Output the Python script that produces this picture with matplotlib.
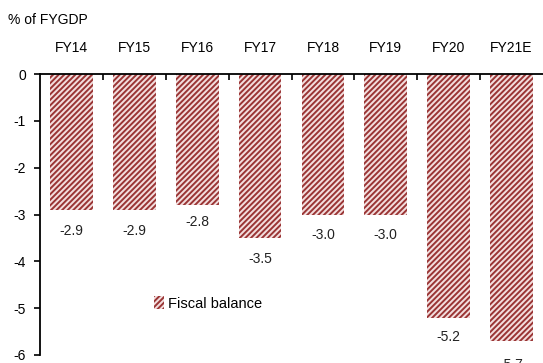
import matplotlib
matplotlib.use("Agg")
import matplotlib.pyplot as plt
import numpy as np

plt.rcParams['font.family'] = ['Liberation Sans Narrow', 'Liberation Sans', 'DejaVu Sans']
plt.rcParams['hatch.linewidth'] = 1.4

# data
years = ["FY14", "FY15", "FY16", "FY17", "FY18", "FY19", "FY20", "FY21E"]
fiscal_balance = [-2.9, -2.9, -2.8, -3.5, -3.0, -3.0, -5.2, -5.7]
label_offsets = [-0.46, -0.46, -0.37, -0.46, -0.43, -0.43, -0.42, -0.52]

fig = plt.figure(figsize=(5.43, 3.63), dpi=100)
ax = fig.add_axes([40 / 543, 8 / 363, 503 / 543, 281 / 363])

x = np.arange(len(years))
bars = ax.bar(x, fiscal_balance, width=0.68, color="#f3dede", edgecolor="#9a3535",
              hatch="//////", linewidth=0, label="Fiscal balance")

for xi, v, off in zip(x, fiscal_balance, label_offsets):
    ax.text(xi, v + off, f"{v:.1f}", ha="center", va="center", fontsize=10,
            color="#222222", clip_on=False)

ax.set_xlim(-0.5, len(years) - 0.5)
ax.set_ylim(-6, 0)
ax.set_yticks(range(-6, 1))
ax.set_yticklabels([str(t) for t in range(-6, 1)], fontsize=10)

# category labels above the zero line
ax.xaxis.tick_top()
ax.set_xticks(x)
ax.set_xticklabels(years, fontsize=10)
ax.tick_params(axis="x", length=0, pad=14)
# small boundary ticks on the zero line
ax.set_xticks(np.arange(0.5, len(years) - 0.5, 1), minor=True)
ax.tick_params(axis="x", which="minor", direction="in", length=4, width=1.2, top=True)
ax.tick_params(axis="y", direction="out", length=4, width=1.2, pad=6)

for s in ["right", "bottom"]:
    ax.spines[s].set_visible(False)
ax.spines["left"].set_linewidth(1.3)
ax.spines["top"].set_linewidth(1.3)

ax.legend(loc="upper left", bbox_to_anchor=(0.2, 0.255), frameon=False, fontsize=10.5,
          handlelength=0.7, handleheight=0.9, handletextpad=0.3)

fig.text(8 / 543, 1 - 20 / 363, "% of FYGDP", fontsize=10, va="center", ha="left")

fig.savefig("out.png", dpi=100)
